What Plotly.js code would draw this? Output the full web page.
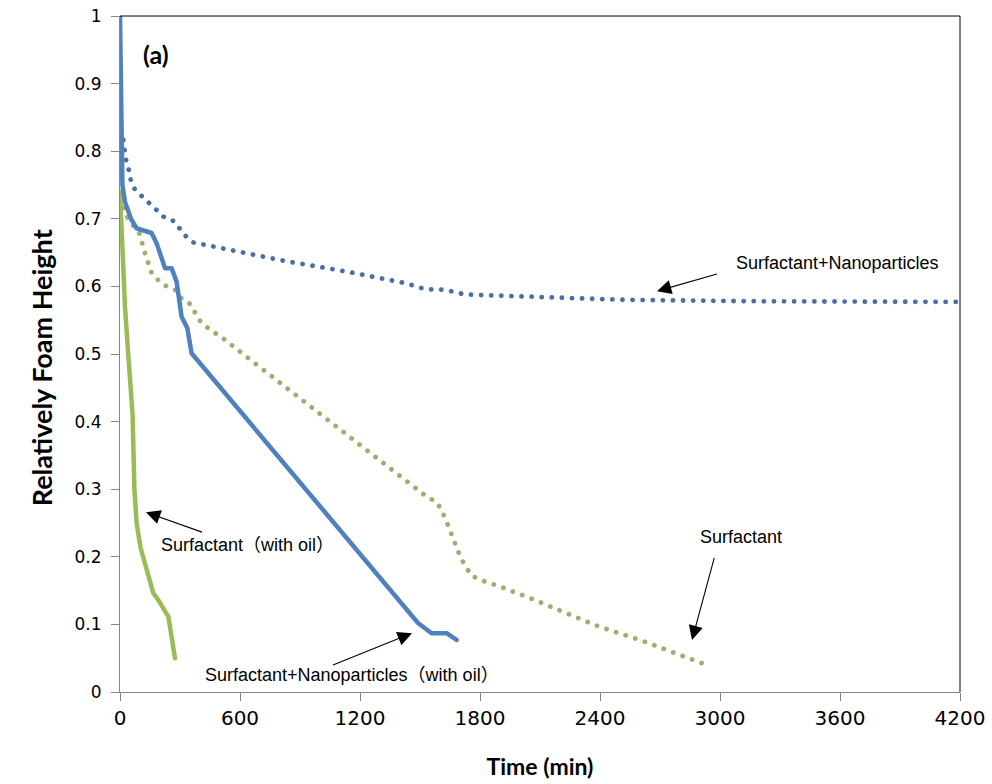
<!DOCTYPE html>
<html>
<head>
<meta charset="utf-8">
<script src="https://cdn.plot.ly/plotly-3.0.1.min.js"></script>
<style>
  html, body { margin: 0; padding: 0; background: #fff; }
  #chart { width: 992px; height: 784px; }
  .js-line { stroke-linecap: round; stroke-linejoin: round; }
</style>
</head>
<body>
<div id="chart"></div>
<script>
// Surfactant+Nanoparticles (dotted blue)
const timeSurfNP = [0, 13, 25, 33, 47, 55, 75, 113, 150, 183, 222, 267, 300, 330, 367, 567, 817, 1133, 1425, 1525, 1625, 1725, 1983, 2540, 3200, 4200];
const heightSurfNP = [0.83, 0.826, 0.797, 0.782, 0.770, 0.755, 0.743, 0.733, 0.723, 0.713, 0.702, 0.697, 0.686, 0.674, 0.665, 0.653, 0.638, 0.622, 0.605, 0.596, 0.595, 0.588, 0.585, 0.580, 0.578, 0.577];

// Surfactant+Nanoparticles (with oil) (solid blue)
const timeSurfNPOil = [0, 5, 12, 25, 40, 55, 83, 117, 158, 183, 208, 225, 258, 283, 308, 337, 358, 1490, 1558, 1633, 1683];
const heightSurfNPOil = [1.0, 0.88, 0.75, 0.725, 0.712, 0.700, 0.686, 0.683, 0.679, 0.664, 0.643, 0.627, 0.627, 0.607, 0.555, 0.538, 0.501, 0.102, 0.087, 0.087, 0.077];

// Surfactant (dotted green)
const timeSurf = [0, 40, 97, 108, 125, 142, 158, 192, 233, 275, 308, 350, 375, 400, 442, 483, 525, 567, 1133, 1533, 1583, 1608, 1630, 1650, 1667, 1683, 1703, 1730, 1758, 1800, 1900, 2050, 2233, 2375, 2617, 2908];
const heightSurf = [0.73, 0.70, 0.678, 0.664, 0.649, 0.634, 0.620, 0.609, 0.600, 0.595, 0.582, 0.574, 0.560, 0.549, 0.538, 0.530, 0.521, 0.511, 0.380, 0.289, 0.281, 0.269, 0.254, 0.240, 0.226, 0.213, 0.199, 0.185, 0.172, 0.166, 0.156, 0.139, 0.116, 0.099, 0.075, 0.043];

// Surfactant (with oil) (solid green)
const timeSurfOil = [0, 12, 17, 25, 42, 58, 63, 67, 72, 83, 103, 167, 192, 242, 275];
const heightSurfOil = [0.74, 0.66, 0.624, 0.570, 0.496, 0.432, 0.41, 0.36, 0.30, 0.250, 0.213, 0.146, 0.136, 0.111, 0.050];

const xTicks = [0, 600, 1200, 1800, 2400, 3000, 3600, 4200];
const yTicks = [0, 0.1, 0.2, 0.3, 0.4, 0.5, 0.6, 0.7, 0.8, 0.9, 1];

const blue = '#4F81BD', blueDot = '#4A6FA5';
const green = '#9BBB59', greenDot = '#9CB070';
const dotDash = '0.1px,10px';
const labelFont = {family: 'Liberation Sans, Arial, Noto Sans CJK SC, sans-serif', size: 18, color: '#000'};

const traces = [
  {x: timeSurfNP, y: heightSurfNP, mode: 'lines', name: 'Surfactant+Nanoparticles',
   line: {color: blueDot, width: 4.8, dash: dotDash}},
  {x: timeSurf, y: heightSurf, mode: 'lines', name: 'Surfactant',
   line: {color: greenDot, width: 4.8, dash: dotDash}},
  {x: timeSurfOil, y: heightSurfOil, mode: 'lines', name: 'Surfactant（with oil）',
   line: {color: green, width: 4.5}},
  {x: timeSurfNPOil, y: heightSurfNPOil, mode: 'lines', name: 'Surfactant+Nanoparticles（with oil）',
   line: {color: blue, width: 4.5}}
];

function arrow(x, y, ax, ay) {
  return {x: x, y: y, xref: 'x', yref: 'y', ax: ax, ay: ay, text: ' ', showarrow: true,
          arrowhead: 2, arrowsize: 2.6, arrowwidth: 1.1, arrowcolor: '#000', standoff: 0, startstandoff: 0};
}
function label(text, x, y, font) {
  return {x: x, y: y, xref: 'x', yref: 'y', text: text, showarrow: false, font: font || labelFont,
          xanchor: 'center', yanchor: 'middle'};
}

const layout = {
  width: 992, height: 784,
  margin: {l: 120, r: 32, t: 16, b: 92},
  paper_bgcolor: '#fff', plot_bgcolor: '#fff',
  showlegend: false,
  hovermode: false,
  xaxis: {
    range: [0, 4200], tickvals: xTicks, ticktext: xTicks.map(String),
    ticks: 'outside', ticklen: 8, tickcolor: '#868686', tickwidth: 1,
    showline: true, linecolor: '#868686', linewidth: 1,
    showgrid: false, zeroline: false,
    tickfont: {family: 'DejaVu Sans', size: 20, color: '#000'},
    title: {text: '<b>Time (min)</b>', font: {family: 'Lato', size: 23, color: '#000'}, standoff: 29}
  },
  yaxis: {
    range: [0, 1], tickvals: yTicks, ticktext: yTicks.map(String),
    ticks: 'outside', ticklen: 8, tickcolor: '#868686', tickwidth: 1,
    showline: true, linecolor: '#868686', linewidth: 1,
    showgrid: false, zeroline: false,
    tickfont: {family: 'DejaVu Sans', size: 17, color: '#000'},
    ticklabelstandoff: 6,
    title: {text: '<b>Relatively Foam Height</b>&nbsp;&nbsp;&nbsp;&nbsp;', font: {family: 'Lato', size: 27, color: '#000'}, standoff: 14}
  },
  shapes: [
    {type: 'line', xref: 'paper', yref: 'paper', x0: 0, x1: 1, y0: 1, y1: 1, line: {color: '#000', width: 1}},
    {type: 'line', xref: 'paper', yref: 'paper', x0: 1, x1: 1, y0: 0, y1: 1, line: {color: '#000', width: 1}}
  ],
  annotations: [
    label('<b>(a)</b>', 180, 0.944, {family: 'Lato', size: 25, color: '#000'}),
    label('Surfactant+Nanoparticles', 3585, 0.635),
    arrow(2685, 0.593, 63, -18),
    label('Surfactant', 3105, 0.229),
    arrow(2860, 0.077, 25, -92),
    label('Surfactant（with oil）', 635, 0.217),
    arrow(130, 0.266, 59, 21),
    label('Surfactant+Nanoparticles（with oil）', 1160, 0.025),
    arrow(1460, 0.087, -82, 33)
  ]
};

Plotly.newPlot('chart', traces, layout, {displayModeBar: false, staticPlot: true});
</script>
</body>
</html>
